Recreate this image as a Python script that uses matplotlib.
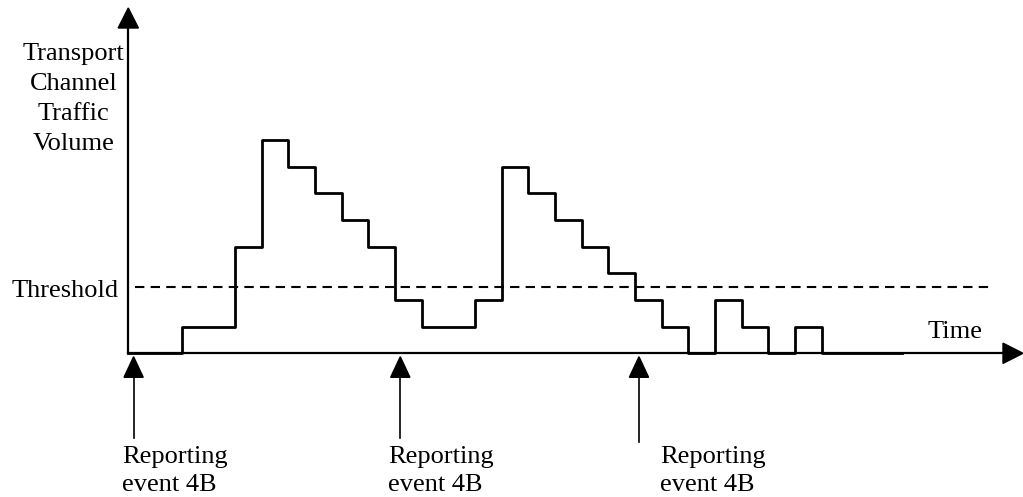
import numpy as np
import matplotlib.pyplot as plt

# Step levels of the traffic volume (one value per time slot)
slot_edges = [0, 2, 4, 5, 6, 7, 8, 9, 10, 11, 13, 14, 15, 16, 17, 18, 19,
              20, 21, 22, 23, 24, 25, 26, 29]
volume = [0, 1, 4, 8, 7, 6, 5, 4, 2, 1, 2, 7, 6, 5, 4, 3, 2, 1, 0, 2, 1, 0, 1, 0]
threshold = 2.5

# Reporting event 4B positions (time axis)
event_times = [0.2, 10.2, 19.15]
event_labels = ['Reporting\nevent 4B', 'Reporting\nevent 4B', 'Reporting\nevent 4B']
ylabel_lines = ['Transport', 'Channel', 'Traffic', 'Volume']

# layout (data units, 1 unit = one time slot / one volume step)
label_left = [-0.24, 9.74, 19.94]
shaft_low = [-3.18, -3.18, -3.33]

plt.rcParams['font.family'] = ['Liberation Serif', 'DejaVu Serif']
fs = 19

fig = plt.figure(figsize=(10.23, 4.97), dpi=100)
ax = fig.add_axes([0, 0, 1, 1])
ax.set_xlim(-4.81, 33.55)
ax.set_ylim(-5.39, 13.25)
ax.axis('off')

# axes with arrow heads
ax.plot([0, 0], [0, 12.2], color='black', lw=1.6)
ax.plot([0, 32.8], [0, 0], color='black', lw=1.6)
ax.fill([-0.38, 0.38, 0], [12.2, 12.2, 12.95], color='black')
ax.fill([32.8, 32.8, 33.55], [-0.38, 0.38, 0], color='black')

# traffic volume step line
xs = np.repeat(slot_edges, 2)[1:-1]
ys = np.repeat(volume, 2)
ax.plot(xs, ys, color='black', lw=2)

# threshold
ax.plot([0.25, 32.3], [threshold, threshold], color='black', lw=1.5,
        linestyle=(0, (4.5, 3)))

# reporting events
for t, lab, lx, low in zip(event_times, event_labels, label_left, shaft_low):
    ax.plot([t, t], [-0.85, low], color='black', lw=1.2)
    ax.fill([t - 0.36, t + 0.36, t], [-0.9, -0.9, -0.13], color='black')
    for k, line in enumerate(lab.split('\n')):
        ax.text(lx, -4.1 - 1.08 * k, line, fontsize=fs, ha='left',
                va='baseline')

for k, line in enumerate(ylabel_lines):
    ax.text(-2.04, 11.0 - 1.12 * k, line, fontsize=fs, ha='center',
            va='baseline')
ax.text(-4.36, 2.1, 'Threshold', fontsize=fs, ha='left', va='baseline')
ax.text(29.99, 0.575, 'Time', fontsize=fs, ha='left', va='baseline')

plt.savefig('out.png', dpi=100)
